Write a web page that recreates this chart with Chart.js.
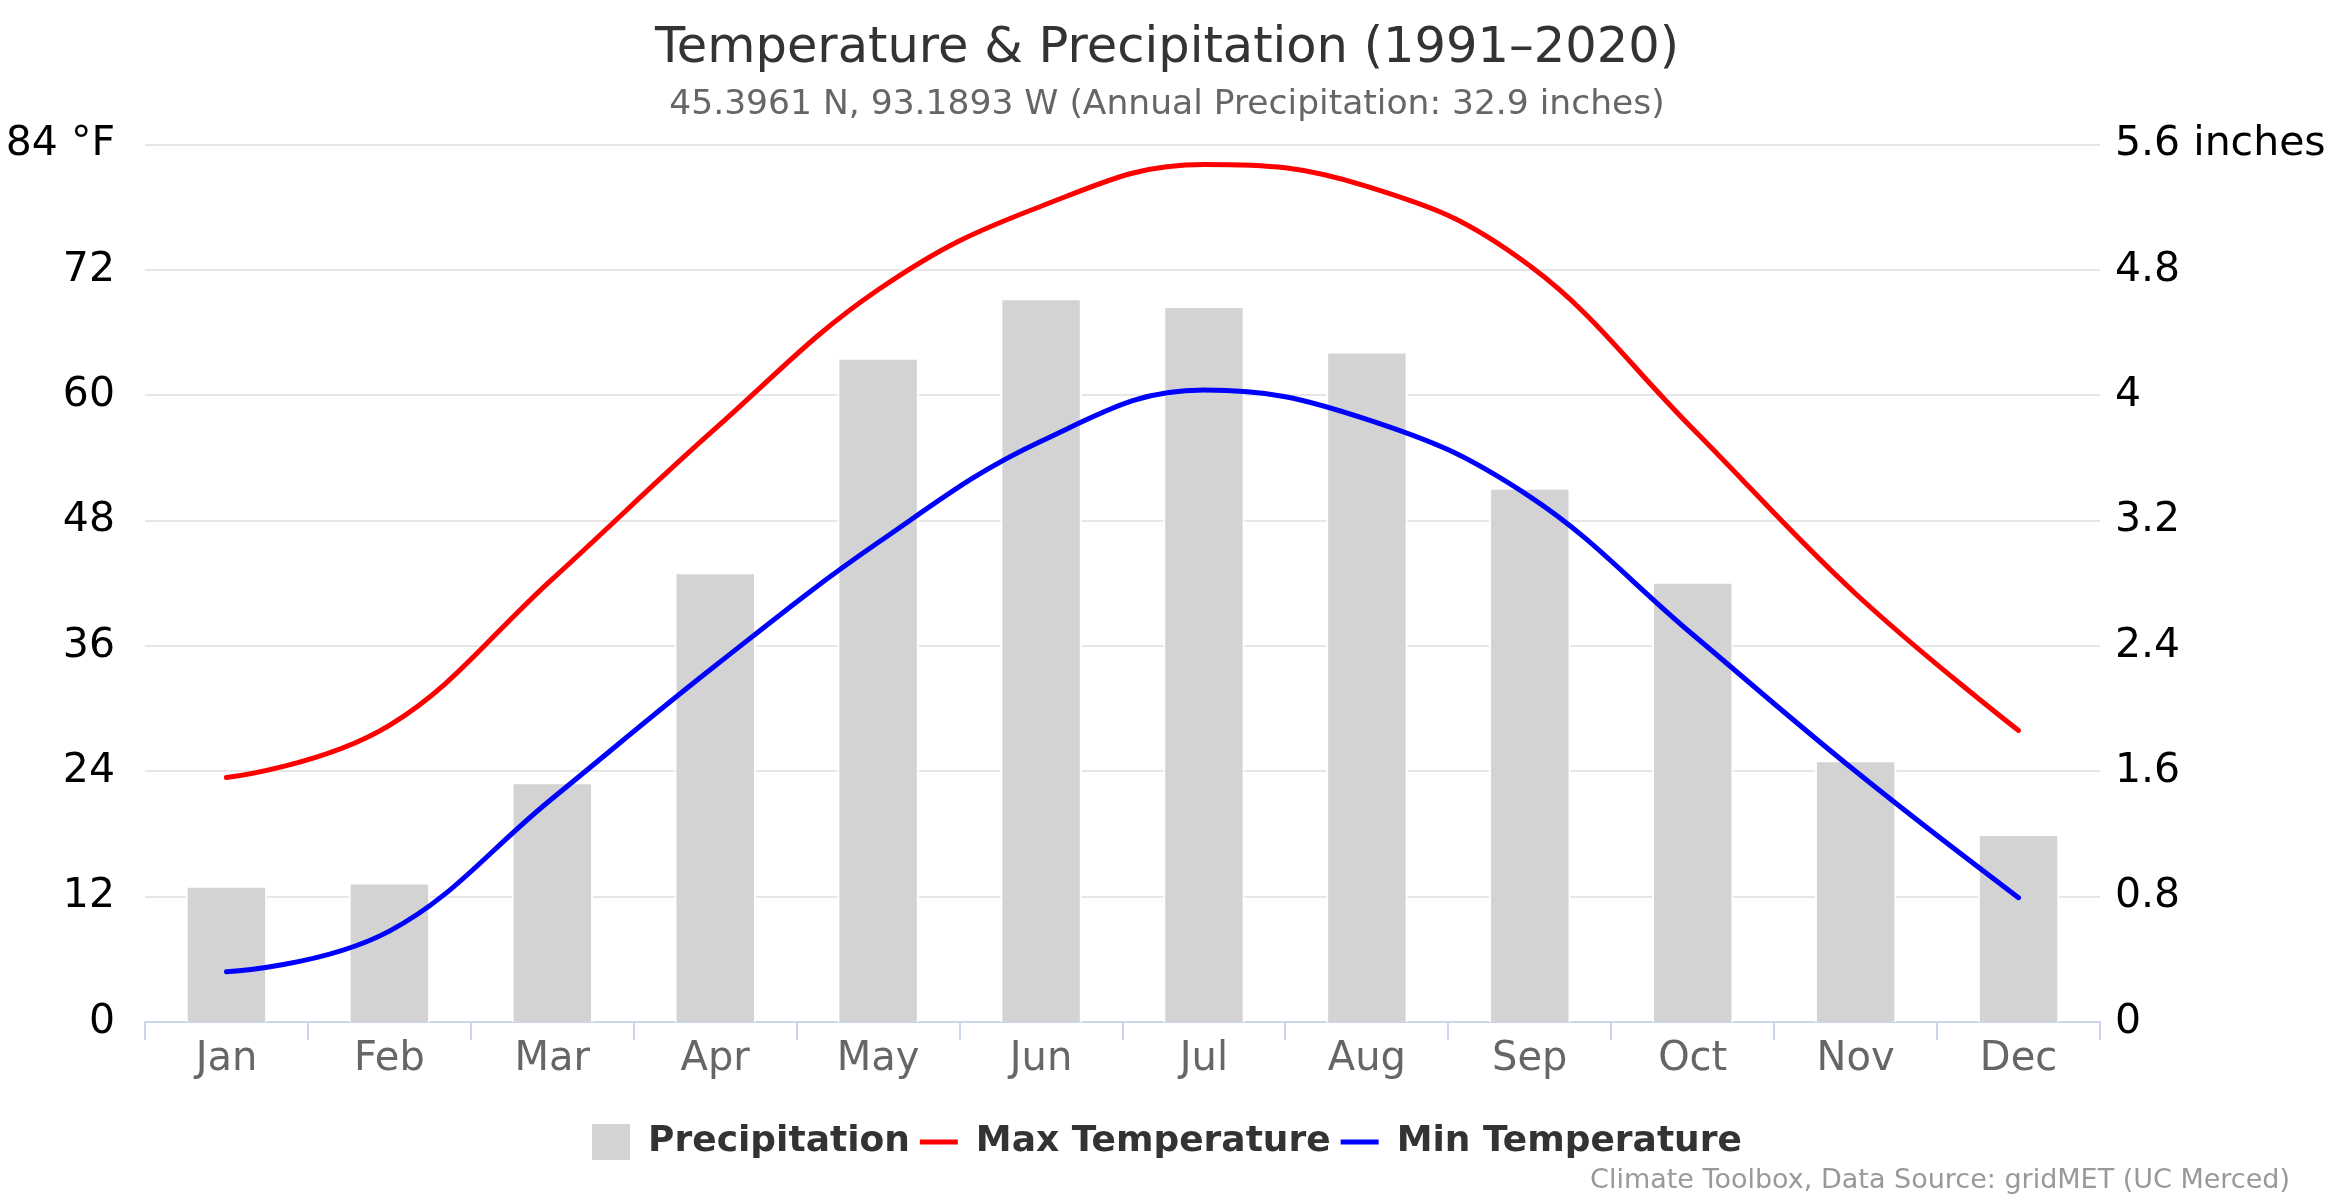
<!DOCTYPE html>
<html>
<head>
<meta charset="utf-8">
<script src="https://cdn.jsdelivr.net/npm/chart.js@4/dist/chart.umd.min.js"></script>
<style>
  html, body { margin: 0; padding: 0; background: #fff; }
  canvas { display: block; }
</style>
</head>
<body>
<canvas id="c" width="2334" height="1200"></canvas>
<script>
const months = ['Jan','Feb','Mar','Apr','May','Jun','Jul','Aug','Sep','Oct','Nov','Dec'];
const precipitation = [0.87, 0.89, 1.53, 2.87, 4.24, 4.62, 4.57, 4.28, 3.41, 2.81, 1.67, 1.20];
const maxTemperature = [23.4, 28.4, 42.4, 56.8, 70.1, 78.1, 82.1, 80.0, 72.4, 56.8, 41.0, 27.9];
const minTemperature = [4.8, 8.7, 21.4, 34.1, 45.9, 55.6, 60.5, 57.7, 50.3, 37.1, 24.0, 11.9];
const tempTicks = [0, 12, 24, 36, 48, 60, 72, 84];
const precipTicks = [0, 0.8, 1.6, 2.4, 3.2, 4, 4.8, 5.6];
const titleText = 'Temperature & Precipitation (1991–2020)';
const subtitleText = '45.3961 N, 93.1893 W (Annual Precipitation: 32.9 inches)';
const creditText = 'Climate Toolbox, Data Source: gridMET (UC Merced)';

const FONT = "'DejaVu Sans', 'Noto Sans', sans-serif";
Chart.defaults.font.family = FONT;

const creditsPlugin = {
  id: 'credits',
  afterDraw(chart) {
    const ctx = chart.ctx;
    ctx.save();
    ctx.font = "27px " + FONT;
    ctx.fillStyle = '#999999';
    ctx.textAlign = 'right';
    ctx.textBaseline = 'middle';
    ctx.fillText(creditText, 2290, 1181);
    ctx.restore();
  }
};

// Spline smoothing in the style of a classic "spline" series:
// control points derived from neighbouring points, clamped to avoid false extremes.
const splinePlugin = {
  id: 'splineCP',
  beforeDatasetDraw(chart, args) {
    const meta = args.meta;
    if (meta.type !== 'line' || !meta.dataset) return;
    const pts = meta.data;
    const smoothing = 1.5, denom = smoothing + 1;
    const n = pts.length;
    for (let i = 0; i < n; i++) {
      const p = pts[i];
      const px = p.x, py = p.y;
      let lX = px, lY = py, rX = px, rY = py;
      if (i > 0 && i < n - 1) {
        const a = pts[i - 1], b = pts[i + 1];
        lX = (smoothing * px + a.x) / denom;
        lY = (smoothing * py + a.y) / denom;
        rX = (smoothing * px + b.x) / denom;
        rY = (smoothing * py + b.y) / denom;
        let corr = 0;
        if (rX !== lX) corr = ((rY - lY) * (rX - px)) / (rX - lX) + py - rY;
        lY += corr; rY += corr;
        if (lY > a.y && lY > py) { lY = Math.max(a.y, py); rY = 2 * py - lY; }
        else if (lY < a.y && lY < py) { lY = Math.min(a.y, py); rY = 2 * py - lY; }
        if (rY > b.y && rY > py) { rY = Math.max(b.y, py); lY = 2 * py - rY; }
        else if (rY < b.y && rY < py) { rY = Math.min(b.y, py); lY = 2 * py - rY; }
      }
      p.cp1x = lX; p.cp1y = lY;
      p.cp2x = rX; p.cp2y = rY;
    }
    meta.dataset._pointsUpdated = true;
    meta.dataset._path = undefined;
  }
};

new Chart(document.getElementById('c'), {
  type: 'bar',
  data: {
    labels: months,
    datasets: [
      {
        type: 'bar',
        label: 'Precipitation',
        data: precipitation,
        yAxisID: 'yP',
        backgroundColor: '#d3d3d3',
        borderColor: '#ffffff',
        borderWidth: 2,
        borderSkipped: 'bottom',
        categoryPercentage: 1,
        barPercentage: 0.5,
        order: 3
      },
      {
        type: 'line',
        label: 'Max Temperature',
        data: maxTemperature,
        yAxisID: 'yT',
        borderColor: '#ff0000',
        backgroundColor: '#ff0000',
        borderWidth: 5,
        borderCapStyle: 'round',
        borderJoinStyle: 'round',
        pointRadius: 0,
        tension: 0.4,
        fill: false,
        order: 1
      },
      {
        type: 'line',
        label: 'Min Temperature',
        data: minTemperature,
        yAxisID: 'yT',
        borderColor: '#0000ff',
        backgroundColor: '#0000ff',
        borderWidth: 5,
        borderCapStyle: 'round',
        borderJoinStyle: 'round',
        pointRadius: 0,
        tension: 0.4,
        fill: false,
        order: 2
      }
    ]
  },
  options: {
    responsive: false,
    animation: false,
    devicePixelRatio: 1,
    layout: { padding: { left: 0, right: 0, top: 0, bottom: 30 } },
    plugins: {
      title: {
        display: true,
        text: titleText,
        color: '#333333',
        font: { size: 49.5, weight: 'normal', lineHeight: 1.2 },
        padding: { top: 19, bottom: 6 }
      },
      subtitle: {
        display: true,
        text: subtitleText,
        color: '#666666',
        font: { size: 34.5, weight: 'normal', lineHeight: 1.2 },
        padding: { top: 0, bottom: 18.8 }
      },
      legend: {
        display: true,
        position: 'bottom',
        labels: {
          color: '#333333',
          font: { size: 36, weight: 'bold' },
          usePointStyle: true,
          pointStyleWidth: 38,
          boxHeight: 36,
          padding: 10,
          sort: (a, b) => a.datasetIndex - b.datasetIndex,
          generateLabels(chart) {
            const items = Chart.defaults.plugins.legend.labels.generateLabels(chart);
            items.forEach(it => {
              if (it.datasetIndex === 0) {
                it.pointStyle = 'rect';
                it.lineWidth = 0;
                it.strokeStyle = '#d3d3d3';
              } else {
                it.pointStyle = 'line';
                it.lineWidth = 5;
              }
            });
            return items;
          }
        }
      },
      tooltip: { enabled: false }
    },
    scales: {
      x: {
        type: 'category',
        offset: true,
        afterFit(s) { s.height = 92; },
        grid: {
          offset: true,
          drawOnChartArea: false,
          drawTicks: true,
          tickLength: 18,
          color: '#ccd6eb',
          lineWidth: 2
        },
        border: { display: true, color: '#ccd6eb', width: 2 },
        ticks: {
          color: '#666666',
          font: { size: 40, lineHeight: 1 },
          padding: 0,
          maxRotation: 0,
          autoSkip: false
        }
      },
      yT: {
        type: 'linear',
        position: 'left',
        min: tempTicks[0],
        max: tempTicks[tempTicks.length - 1],
        afterFit(s) { s.width = 145; },
        afterBuildTicks(s) { s.ticks = tempTicks.map(v => ({ value: v })); },
        grid: { color: '#e6e6e6', lineWidth: 2, drawTicks: false },
        border: { display: false },
        ticks: {
          color: '#000000',
          font: { size: 41 },
          padding: 30,
          callback: (v) => v === 84 ? '84 °F' : String(v)
        }
      },
      yP: {
        type: 'linear',
        position: 'right',
        min: precipTicks[0],
        max: precipTicks[precipTicks.length - 1],
        afterFit(s) { s.width = 234; },
        afterBuildTicks(s) { s.ticks = precipTicks.map(v => ({ value: v })); },
        grid: { display: false, drawOnChartArea: false },
        border: { display: false },
        ticks: {
          color: '#000000',
          font: { size: 41 },
          padding: 7,
          callback: (v) => {
            const s = String(Number(v.toFixed(1)));
            return v >= 5.59 ? s + ' inches' : s;
          }
        }
      }
    }
  },
  plugins: [creditsPlugin, splinePlugin]
});
</script>
</body>
</html>
